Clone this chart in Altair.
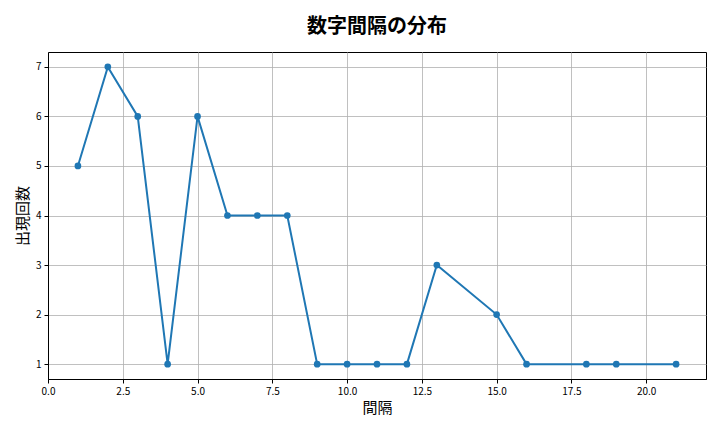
import altair as alt
import pandas as pd

intervals = [1, 2, 3, 4, 5, 6, 7, 8, 9, 10, 11, 12, 13, 15, 16, 18, 19, 21]
counts = [5, 7, 6, 1, 6, 4, 4, 4, 1, 1, 1, 1, 3, 2, 1, 1, 1, 1]
x_ticks = [0, 2.5, 5, 7.5, 10, 12.5, 15, 17.5, 20]
y_ticks = [1, 2, 3, 4, 5, 6, 7]

df = pd.DataFrame({"interval": intervals, "count": counts})

FONT = "Noto Sans CJK JP"

x = alt.X("interval:Q", title="間隔",
          scale=alt.Scale(domain=[0, 22], nice=False, zero=False),
          axis=alt.Axis(values=x_ticks, format=".1f", labelFontSize=10,
                        labelFlush=False,
                        titleFontSize=15, titleFontWeight="normal",
                        titlePadding=4))
y = alt.Y("count:Q", title="出現回数",
          scale=alt.Scale(domain=[0.7, 7.3], nice=False, zero=False),
          axis=alt.Axis(values=y_ticks, format="d", labelFontSize=10,
                        labelFlush=False,
                        titleFontSize=15, titleFontWeight="normal",
                        titlePadding=5))

base = alt.Chart(df).encode(x=x, y=y)
line = base.mark_line(color="#1f77b4", strokeWidth=2)
pts = base.mark_circle(color="#1f77b4", size=45, opacity=1)

chart = (line + pts).properties(
    width=658, height=327,
    title=alt.TitleParams("数字間隔の分布", fontSize=20, fontWeight="bold",
                          anchor="middle", offset=15, font=FONT, color="black"),
    autosize=alt.AutoSizeParams(type="none"),
    padding={"left": 40, "top": 44, "right": 6, "bottom": 45},
).configure(font=FONT).configure_axis(
    labelColor="black", titleColor="black", labelFont=FONT, titleFont=FONT,
    domainColor="black", domainWidth=1, tickColor="black", tickSize=4,
    gridColor="#b0b0b0", gridWidth=0.8, labelPadding=3,
).configure_view(stroke="black", strokeWidth=1)

chart.save("out.html", embed_options={"renderer": "svg", "actions": False})
